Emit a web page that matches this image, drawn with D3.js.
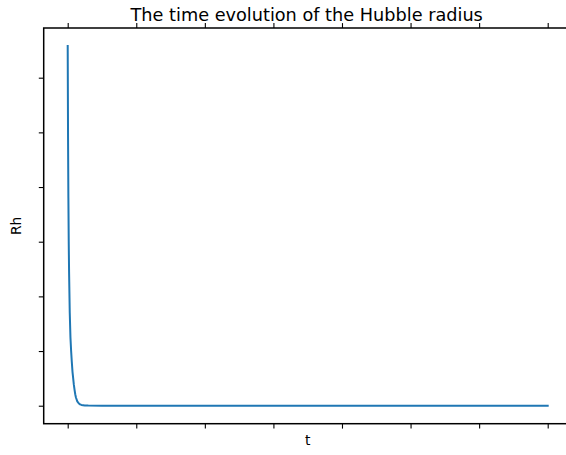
<!DOCTYPE html>
<html>
<head>
<meta charset="utf-8">
<script src="https://cdn.jsdelivr.net/npm/d3@7"></script>
<style>
  html, body { margin: 0; padding: 0; background: #fff; overflow: hidden; }
  svg { display: block; }
  text { font-family: "DejaVu Sans", sans-serif; fill: #000; }
</style>
</head>
<body>
<svg id="chart" width="566" height="455"></svg>
<script>
// Data (arbitrary units, ticks unlabeled)
const tValues  = [0, 0.005, 0.01, 0.015, 0.02, 0.03, 0.04, 0.05, 0.06, 0.07, 0.08, 0.09, 0.10, 0.11, 0.12, 0.14, 0.16, 0.18, 0.20, 0.25, 0.30, 0.50, 1, 2, 3, 4, 5, 6, 7];
const rhValues = [6.58, 4.9, 3.8, 3.0, 2.45, 1.7, 1.25, 1.0, 0.8, 0.62, 0.5, 0.38, 0.29, 0.21, 0.15, 0.08, 0.045, 0.025, 0.015, 0.005, 0.002, 0, 0, 0, 0, 0, 0, 0, 0];
const xTicks = [0, 1, 2, 3, 4, 5, 6, 7];
const yTicks = [0, 1, 2, 3, 4, 5, 6];
const titleText = "The time evolution of the Hubble radius";
const xLabel = "t";
const yLabel = "Rh";

const points = tValues.map((t, i) => ({ t, rh: rhValues[i] }));

const svg = d3.select("#chart");
const mLeft = 43.7, mRight = 571.7, mTop = 28, mBottom = 423.7;

const xMin = d3.min(tValues), xMax = d3.max(tValues);
const yMin = d3.min(rhValues), yMax = d3.max(rhValues);
const xPad = (xMax - xMin) * 0.05, yPad = (yMax - yMin) * 0.05;

const x = d3.scaleLinear().domain([xMin - xPad, xMax + xPad]).range([mLeft, mRight]);
const y = d3.scaleLinear().domain([yMin - yPad, yMax + yPad]).range([mBottom, mTop]);

// line
svg.append("path")
  .datum(points)
  .attr("fill", "none")
  .attr("stroke", "#1f77b4")
  .attr("stroke-width", 2)
  .attr("stroke-linejoin", "round")
  .attr("stroke-linecap", "square")
  .attr("d", d3.line().x(d => x(d.t)).y(d => y(d.rh)));

function styleAxis(g) {
  g.selectAll(".domain").remove();
  g.selectAll(".tick line").attr("stroke", "#000").attr("stroke-width", 1.1);
  g.selectAll(".tick text").remove();
}

svg.append("g").attr("transform", `translate(0,${mBottom})`)
  .call(d3.axisBottom(x).tickValues(xTicks).tickSize(4.9).tickFormat(""))
  .call(styleAxis);
svg.append("g").attr("transform", `translate(0,${mTop})`)
  .call(d3.axisTop(x).tickValues(xTicks).tickSize(4.9).tickFormat(""))
  .call(styleAxis);
svg.append("g").attr("transform", `translate(${mLeft},0)`)
  .call(d3.axisLeft(y).tickValues(yTicks).tickSize(4.9).tickFormat(""))
  .call(styleAxis);

// spines
svg.append("rect")
  .attr("x", mLeft).attr("y", mTop)
  .attr("width", mRight - mLeft).attr("height", mBottom - mTop)
  .attr("fill", "none").attr("stroke", "#000").attr("stroke-width", 1.5);

// title and labels
svg.append("text")
  .attr("x", (mLeft + mRight) / 2 - 1).attr("y", 21)
  .attr("text-anchor", "middle")
  .attr("font-size", "17.7px")
  .text(titleText);

svg.append("text")
  .attr("x", (mLeft + mRight) / 2).attr("y", 445)
  .attr("text-anchor", "middle")
  .attr("font-size", "13.9px")
  .text(xLabel);

svg.append("text")
  .attr("transform", `translate(21,${(mTop + mBottom) / 2}) rotate(-90)`)
  .attr("text-anchor", "middle")
  .attr("font-size", "13.9px")
  .text(yLabel);
</script>
</body>
</html>
